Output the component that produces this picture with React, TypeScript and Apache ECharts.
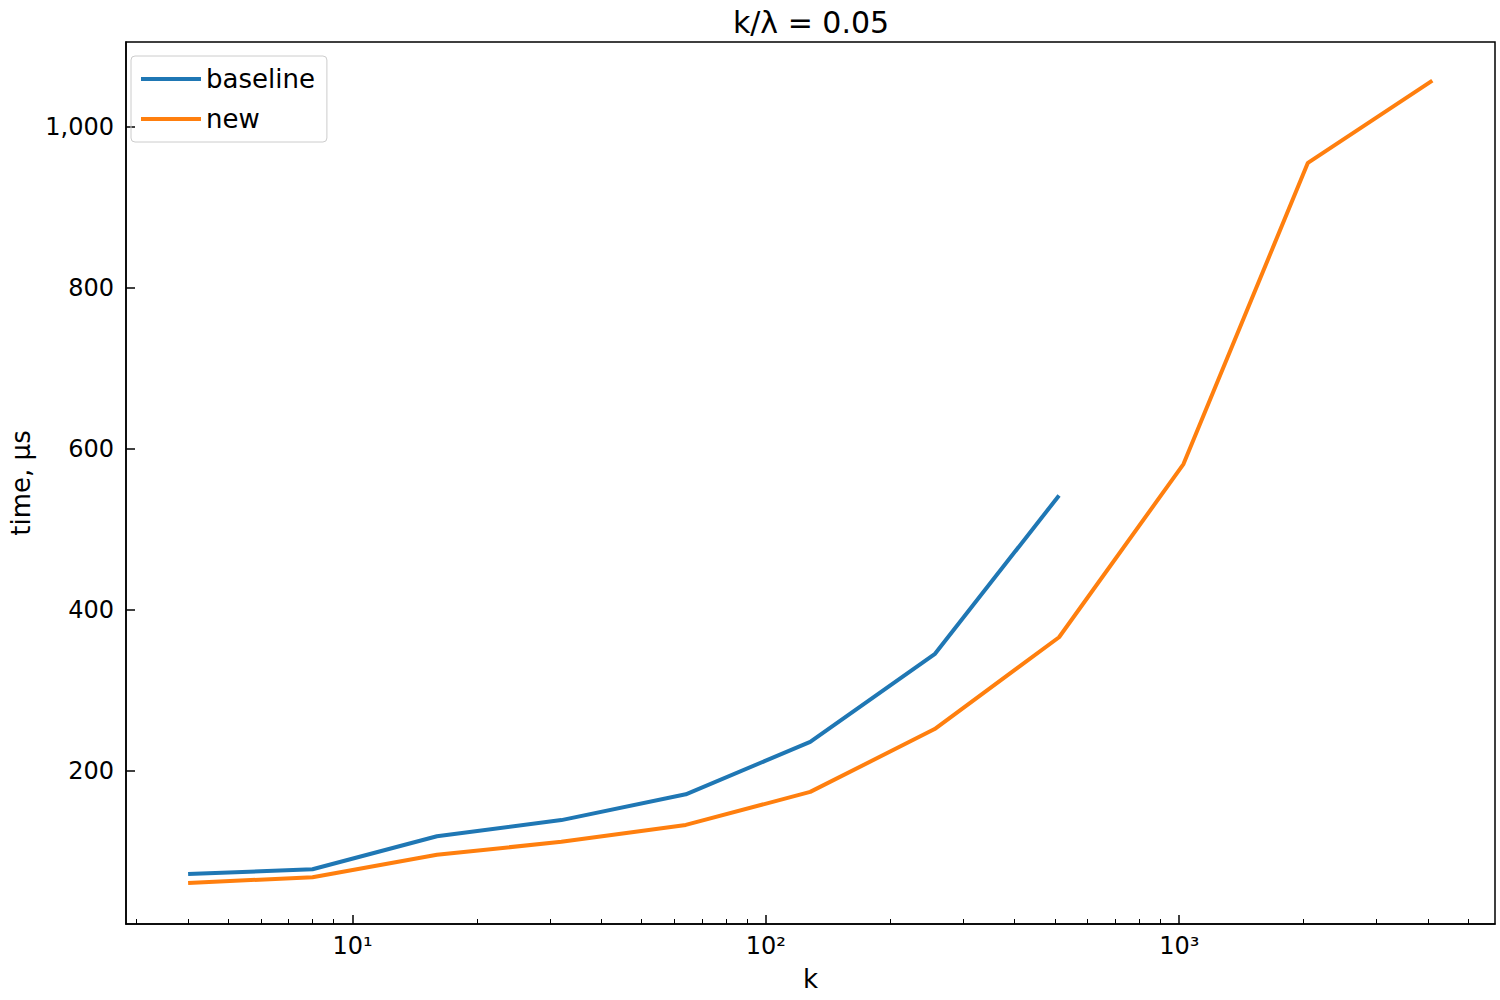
import { useEffect, useRef } from 'react';
import * as echarts from 'echarts';

const ks = [4, 8, 16, 32, 64, 128, 256, 512, 1024, 2048, 4096];
const baseline = [72, 78, 119, 139, 171, 236, 345, 542];
const newer = [61, 68, 96, 112, 133, 174, 252, 366, 581, 955, 1057];
const yTicks = [200, 400, 600, 800, 1000];
const xMajor = [10, 100, 1000];
const xMinor = [3, 4, 5, 6, 7, 8, 9, 20, 30, 40, 50, 60, 70, 80, 90, 200, 300, 400, 500, 600, 700, 800, 900, 2000, 3000, 4000, 5000];
const sup: Record<number, string> = { 10: '10¹', 100: '10²', 1000: '10³' };

export default function App() {
  const ref = useRef<HTMLDivElement>(null);

  useEffect(() => {
    if (!ref.current) return;
    const chart = echarts.init(ref.current, null, { renderer: 'svg' });
    const font = 'DejaVu Sans';
    const xBase = {
      type: 'log',
      logBase: 10,
      min: 2.83,
      max: 5808,
      splitLine: { show: false },
      minorTick: { show: false },
    };
    chart.setOption({
      animation: false,
      textStyle: { fontFamily: font },
      title: {
        text: 'k/λ = 0.05',
        left: 806,
        top: 2,
        textAlign: 'center',
        textStyle: { fontSize: 30, fontWeight: 'normal', color: '#000', fontFamily: font },
      },
      legend: {
        left: 131,
        top: 56,
        orient: 'vertical',
        borderColor: '#ccc',
        borderWidth: 1,
        borderRadius: 4,
        padding: [10, 12, 10, 10],
        itemGap: 14,
        itemWidth: 60,
        itemHeight: 4,
        textStyle: { fontSize: 26, color: '#000', fontFamily: font },
        data: [
          { name: 'baseline', icon: 'rect' },
          { name: 'new', icon: 'rect' },
        ],
      },
      grid: {
        left: 117, right: 5, top: 42, bottom: 76,
        show: true, borderColor: '#000', borderWidth: 1.5,
      },
      xAxis: [
        {
          ...xBase,
          name: 'k',
          nameLocation: 'middle',
          nameGap: 42,
          nameTextStyle: { fontSize: 26, color: '#000', fontFamily: font },
          axisLine: { lineStyle: { color: '#000', width: 1.5 } },
          axisTick: { inside: true, length: 9, customValues: xMajor, lineStyle: { color: '#000', width: 1.5 } },
          axisLabel: {
            customValues: xMajor,
            formatter: (v: number) => sup[Math.round(v)] || '',
            fontSize: 24, color: '#000', margin: 10, fontFamily: font,
          },
        },
        {
          ...xBase,
          position: 'bottom',
          axisLine: { show: false },
          axisTick: { inside: true, length: 5, customValues: xMinor, lineStyle: { color: '#000', width: 1 } },
          axisLabel: { show: false },
        },
      ],
      yAxis: {
        type: 'value',
        min: 10,
        max: 1105,
        name: 'time, µs',
        nameLocation: 'middle',
        nameGap: 92,
        nameTextStyle: { fontSize: 26, color: '#000', fontFamily: font },
        splitLine: { show: false },
        axisLine: { show: true, lineStyle: { color: '#000', width: 1.5 } },
        axisTick: { inside: true, length: 9, customValues: yTicks, lineStyle: { color: '#000', width: 1.5 } },
        axisLabel: { customValues: yTicks, fontSize: 24, color: '#000', margin: 12, fontFamily: font },
      },
      series: [
        {
          name: 'baseline', type: 'line', showSymbol: false, color: '#1f77b4',
          lineStyle: { width: 4 },
          data: baseline.map((v, i) => [ks[i], v]),
        },
        {
          name: 'new', type: 'line', showSymbol: false, color: '#ff7f0e',
          lineStyle: { width: 4 },
          data: newer.map((v, i) => [ks[i], v]),
        },
      ],
    });
    return () => chart.dispose();
  }, []);

  return <div ref={ref} style={{ position: 'absolute', left: 0, top: 0, width: 1500, height: 1000 }} />;
}
